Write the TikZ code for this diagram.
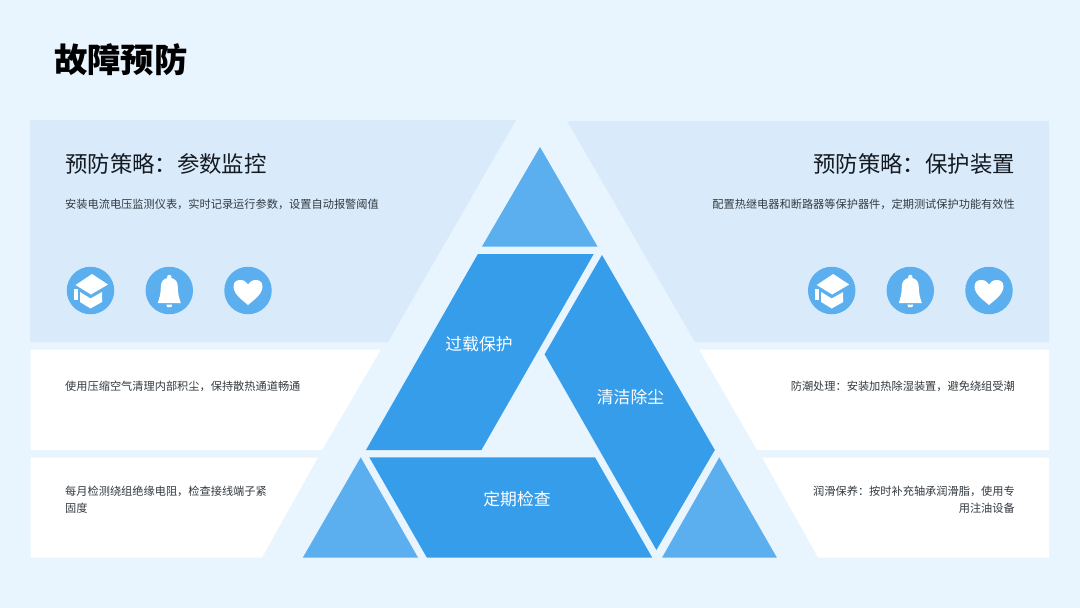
\documentclass[tikz,border=0pt]{standalone}
\usepackage{fontspec}
\setmainfont{Noto Sans CJK SC}
\definecolor{pagebg}{HTML}{E8F4FE}
\definecolor{panelblue}{HTML}{D9EBFB}
\definecolor{lightblue}{HTML}{5CAFEF}
\definecolor{deepblue}{HTML}{369DEB}
\definecolor{inkdark}{HTML}{151A20}
\definecolor{inkbody}{HTML}{333A40}
\newcommand{\cnc}{^^^^ff0c}
\newcommand{\cnk}{^^^^ff1a}
\tikzset{
  toppanel/.style={fill=panelblue,draw=none},
  whitepanel/.style={fill=white,draw=none},
  lighttri/.style={fill=lightblue,draw=none},
  deepshape/.style={fill=deepblue,draw=none},
  pagetitle/.style={anchor=west,inner sep=0pt,text=black,font=\fontsize{33.4}{40}\selectfont\bfseries},
  subhead/.style={inner sep=0pt,text=inkdark,font=\fontsize{22.4}{28}\selectfont},
  bodytext/.style={inner sep=0pt,text=inkbody,font=\fontsize{11.2}{16.5}\selectfont},
  shapelabel/.style={inner sep=0pt,text=white,font=\fontsize{16.8}{20}\selectfont},
  iconback/.style={circle,fill=lightblue,draw=none,minimum size=47.5pt,inner sep=0pt},
  capicon/.pic={
    \fill[white] (1.5,-16.5) -- (17.5,-6) -- (0.5,4) -- (-15,-5.5) -- cycle;
    \fill[white] (-10.5,1.5) -- (0,8) -- (11.5,1.5) -- (11.5,11.5) -- (0,18) -- (-10.5,11.5) -- cycle;
    \fill[white] (-16.5,-2) -- (-12.5,-2) -- (-12.5,9.5) -- (-16.5,9.5) -- cycle;
  },
  bellicon/.pic={
    \fill[white] (0,-13.5) circle (2.2);
    \fill[white] (0,-12.5) .. controls (-7,-12.5) and (-8.5,-8) .. (-8.5,-3)
      .. controls (-8.5,3) and (-10,8) .. (-11.5,12.5) -- (11.5,12.5)
      .. controls (10,8) and (8.5,3) .. (8.5,-3)
      .. controls (8.5,-8) and (7,-12.5) .. (0,-12.5) -- cycle;
    \fill[white] (-3,14) -- (3,14) -- (2,16.5) -- (-2,16.5) -- cycle;
  },
  hearticon/.pic={
    \fill[white] (0,14.5) .. controls (-5,10) and (-14.5,4) .. (-14.5,-4)
      .. controls (-14.5,-9.5) and (-10.5,-10.5) .. (-7.5,-10.5)
      .. controls (-4,-10.5) and (-1.5,-8.5) .. (0,-6)
      .. controls (1.5,-8.5) and (4,-10.5) .. (7.5,-10.5)
      .. controls (10.5,-10.5) and (14.5,-9.5) .. (14.5,-4)
      .. controls (14.5,4) and (5,10) .. (0,14.5) -- cycle;
  }
}
\begin{document}
\begin{tikzpicture}[x=1pt,y=-1pt]
\useasboundingbox (0,0) rectangle (1080,608);
\fill[pagebg] (0,0) rectangle (1080,608);

% side panels
\fill[toppanel] (30,120) -- (516,120) -- (388,342) -- (30,342) -- cycle;
\fill[toppanel] (567,121) -- (1049,121) -- (1049,342) -- (695,342) -- cycle;
\fill[whitepanel] (30.5,349.5) -- (381,349.5) -- (322,450) -- (30.5,450) -- cycle;
\fill[whitepanel] (30.5,457.5) -- (318,457.5) -- (262,557.5) -- (30.5,557.5) -- cycle;
\fill[whitepanel] (699,349.5) -- (1049,349.5) -- (1049,450) -- (757,450) -- cycle;
\fill[whitepanel] (762,457.5) -- (1049,457.5) -- (1049,557.5) -- (818,557.5) -- cycle;

% pyramid
\fill[lighttri] (540,147) -- (597.5,246.5) -- (482,246.5) -- cycle;
\fill[lighttri] (360.7,457.3) -- (418,557.5) -- (302.9,557.5) -- cycle;
\fill[lighttri] (719.3,457.3) -- (776.8,557.5) -- (662.1,557.5) -- cycle;
\fill[deepshape] (477.9,254) -- (593.7,254) -- (481.4,450) -- (366,450) -- cycle;
\fill[deepshape] (602,255) -- (714.8,450) -- (656.4,550) -- (544.6,354.3) -- cycle;
\fill[deepshape] (369.3,457.3) -- (595,457.3) -- (652.1,557.5) -- (426.8,557.5) -- cycle;

% texts
\node[pagetitle] (title) at (54,60) {故障预防};
\node[subhead,anchor=west] (headL) at (65,164) {预防策略\cnk 参数监控};
\node[subhead,anchor=east] (headR) at (1015,164) {预防策略\cnk 保护装置};
\node[bodytext,anchor=west] (textL) at (65,204) {安装电流电压监测仪表\cnc 实时记录运行参数\cnc 设置自动报警阈值};
\node[bodytext,anchor=east] (textR) at (1015,204) {配置热继电器和断路器等保护器件\cnc 定期测试保护功能有效性};
\node[bodytext,anchor=west] (noteLA) at (65,386) {使用压缩空气清理内部积尘\cnc 保持散热通道畅通};
\node[bodytext,anchor=west,align=left] (noteLB) at (65,499.5) {每月检测绕组绝缘电阻\cnc 检查接线端子紧\\固度};
\node[bodytext,anchor=east] (noteRA) at (1015,386) {防潮处理\cnk 安装加热除湿装置\cnc 避免绕组受潮};
\node[bodytext,anchor=east,align=right] (noteRB) at (1015,499.5) {润滑保养\cnk 按时补充轴承润滑脂\cnc 使用专\\用注油设备};
\node[shapelabel] (labA) at (479,344) {过载保护};
\node[shapelabel] (labB) at (630.5,397) {清洁除尘};
\node[shapelabel] (labC) at (517,499.5) {定期检查};

% icons
\node[iconback] (iconLA) at (90.5,290.5) {};
\node[iconback] (iconLB) at (169.3,290.5) {};
\node[iconback] (iconLC) at (248,290.5) {};
\node[iconback] (iconRA) at (831.7,290.5) {};
\node[iconback] (iconRB) at (910.3,290.5) {};
\node[iconback] (iconRC) at (989,290.5) {};
\pic at (iconLA) {capicon};
\pic at (iconRA) {capicon};
\pic at (iconLB) {bellicon};
\pic at (iconRB) {bellicon};
\pic at (iconLC) {hearticon};
\pic at (iconRC) {hearticon};
\end{tikzpicture}
\end{document}
